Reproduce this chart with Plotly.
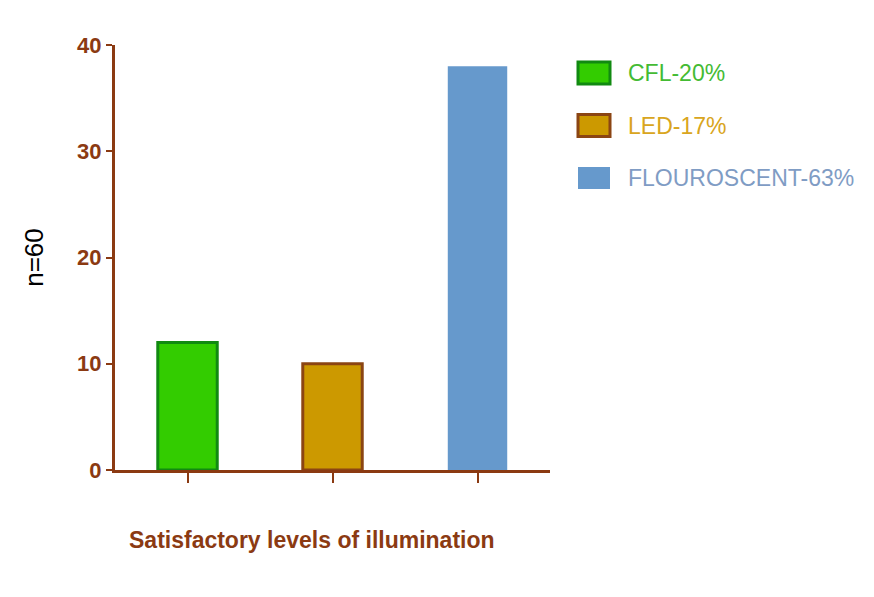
import plotly.graph_objects as go

# values (n = 60)
categories = ["CFL", "LED", "FLOUROSCENT"]
counts = [12, 10, 38]
legend_labels = ["CFL-20%", "LED-17%", "FLOUROSCENT-63%"]

fills = ["#33cc00", "#cc9900", "#6699cc"]
outlines = ["#118a11", "#8b4513", "#6699cc"]
text_colors = ["#44bb33", "#d9a520", "#7f9cc4"]
AXIS = "#8b3a12"
NARROW = "Liberation Sans Narrow, Arial Narrow, Liberation Sans, Arial"

# plot area in page pixels (the page body adds an 8px offset)
PLOT_W, PLOT_H = 435, 425

fig = go.Figure()
for i, cat in enumerate(categories):
    fig.add_trace(
        go.Bar(
            x=[cat],
            y=[counts[i]],
            name=legend_labels[i],
            width=0.41,
            marker=dict(
                color=fills[i],
                line=dict(color=outlines[i], width=3 if i < 2 else 0),
            ),
        )
    )

# hand-built legend so the swatches are the wide boxes of the original
shapes, annotations = [], []
for i, label in enumerate(legend_labels):
    cy = 397 - 52.5 * i  # item centre, px above the x axis
    shapes.append(
        dict(
            type="rect",
            xref="paper",
            yref="paper",
            x0=463 / PLOT_W,
            x1=495 / PLOT_W,
            y0=(cy - 11) / PLOT_H,
            y1=(cy + 11) / PLOT_H,
            fillcolor=fills[i],
            line=dict(color=outlines[i], width=3 if i < 2 else 0),
        )
    )
    annotations.append(
        dict(
            text=label,
            xref="paper",
            yref="paper",
            x=511 / PLOT_W,
            y=cy / PLOT_H,
            xanchor="left",
            yanchor="middle",
            showarrow=False,
            font=dict(family=NARROW, size=23, color=text_colors[i]),
        )
    )

annotations.append(
    dict(
        text="<b>Satisfactory levels of illumination</b>",
        xref="paper",
        yref="paper",
        x=0.453,
        y=-0.165,
        showarrow=False,
        xanchor="center",
        yanchor="middle",
        font=dict(family=NARROW, size=23, color=AXIS),
    )
)

fig.update_layout(
    width=874,
    height=597,
    margin=dict(l=107, r=332, t=37, b=135),
    plot_bgcolor="white",
    paper_bgcolor="white",
    font=dict(family=NARROW, color=AXIS),
    showlegend=False,
    shapes=shapes,
    annotations=annotations,
    xaxis=dict(
        type="category",
        range=[-0.5, 2.5],
        showticklabels=False,
        ticks="outside",
        ticklen=10,
        tickwidth=2,
        tickcolor=AXIS,
        showline=True,
        linecolor=AXIS,
        linewidth=3,
        showgrid=False,
        zeroline=False,
    ),
    yaxis=dict(
        range=[0, 40],
        tickvals=[0, 10, 20, 30, 40],
        ticks="outside",
        ticklen=6,
        tickwidth=2,
        tickcolor=AXIS,
        showline=True,
        linecolor=AXIS,
        linewidth=3,
        showgrid=False,
        zeroline=False,
        tickfont=dict(family=NARROW, size=22, color=AXIS, weight="bold"),
        title=dict(
            text="n=60",
            font=dict(family="Liberation Sans, Arial", size=26, color="black"),
            standoff=27,
        ),
    ),
)

fig.write_html("out.html")
